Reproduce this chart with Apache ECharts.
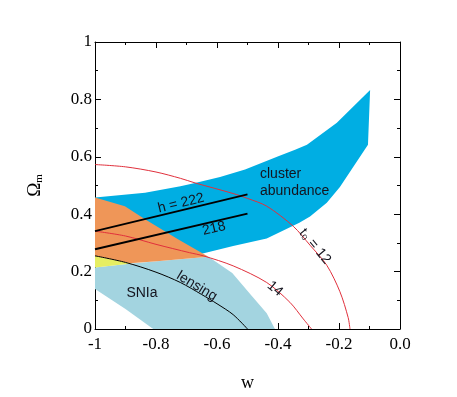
<!DOCTYPE html>
<html>
<head>
<meta charset="utf-8">
<script src="https://cdn.jsdelivr.net/npm/echarts@6/dist/echarts.min.js"></script>
<style>html,body{margin:0;padding:0;background:#fff;}#c{width:457px;height:397px;}</style>
</head>
<body>
<div id="c"></div>
<script>
// ---- data (w, Omega_m) ----
const xTickLabels = ['-1', '-0.8', '-0.6', '-0.4', '-0.2', '0.0'];
const yTickLabels = ['0', '0.2', '0.4', '0.6', '0.8', '1'];

const clusterRegion = [
  [-1, 0.458], [-0.836, 0.475], [-0.72, 0.497], [-0.672, 0.509], [-0.59, 0.53],
  [-0.508, 0.556], [-0.399, 0.602], [-0.344, 0.625], [-0.305, 0.642], [-0.207, 0.719],
  [-0.098, 0.833], [-0.105, 0.642], [-0.197, 0.495], [-0.24, 0.44], [-0.295, 0.392],
  [-0.33, 0.37], [-0.437, 0.315], [-0.547, 0.289], [-0.65, 0.262], [-1, 0.40]
];
const snRegion = [
  [-1, 0.214], [-0.88, 0.228], [-0.628, 0.252], [-0.55, 0.195], [-0.49, 0.12],
  [-0.437, 0.055], [-0.41, 0], [-0.809, 0], [-0.9, 0.07], [-1, 0.139]
];
const overlapRegion = [
  [-1, 0.458], [-0.902, 0.428], [-0.836, 0.382], [-0.728, 0.3125], [-0.628, 0.252],
  [-0.797, 0.236], [-0.885, 0.229], [-1, 0.254]
];
const lensSnRegion = [
  [-1, 0.254], [-0.88, 0.228], [-1, 0.214]
];
const h222 = [[-1, 0.341], [-0.5, 0.469]];
const h218 = [[-1, 0.278], [-0.5, 0.402]];
const lensing = [
  [-1, 0.255], [-0.9, 0.232], [-0.8, 0.198], [-0.72, 0.162], [-0.65, 0.12],
  [-0.6, 0.088], [-0.547, 0.05], [-0.5, 0]
];
const t0_12 = [
  [-1, 0.573], [-0.9, 0.565], [-0.8, 0.547], [-0.72, 0.525], [-0.672, 0.509],
  [-0.547, 0.472], [-0.5, 0.455], [-0.437, 0.428], [-0.35, 0.358], [-0.295, 0.292],
  [-0.24, 0.222], [-0.197, 0.13], [-0.17, 0.04], [-0.164, 0]
];
const t0_14 = [
  [-1, 0.341], [-0.9, 0.324], [-0.8, 0.295], [-0.69, 0.266], [-0.645, 0.255],
  [-0.547, 0.22], [-0.437, 0.162], [-0.361, 0.093], [-0.317, 0.035], [-0.29, 0]
];

// ---- annotations (text + placement) ----
const annotations = [
  { text: 'cluster', at: [-0.459, 0.538], rot: 0, align: 'left' },
  { text: 'abundance', at: [-0.459, 0.479], rot: 0, align: 'left' },
  { text: 'h = 222', at: [-0.718, 0.438], rot: 13.5, align: 'center' },
  { text: '218', at: [-0.61, 0.350], rot: 13.5, align: 'center' },
  { text: 't\u2080 = 12', at: [-0.279, 0.288], rot: -50, align: 'center' },
  { text: '14', at: [-0.41, 0.14], rot: -40, align: 'center' },
  { text: 'lensing', at: [-0.666, 0.149], rot: -31, align: 'center' },
  { text: 'SNIa', at: [-0.846, 0.125], rot: 0, align: 'center' }
];

function polySeries(pts, color) {
  return {
    type: 'custom', coordinateSystem: 'cartesian2d', silent: true, clip: true,
    data: [pts[0]],
    renderItem: function (params, api) {
      return { type: 'polygon', shape: { points: pts.map(function (p) { return api.coord(p); }) }, style: { fill: color } };
    }
  };
}
function lineSeries(pts, color, width, smooth) {
  return {
    type: 'line', data: pts, showSymbol: false, symbol: 'none', smooth: smooth, silent: true,
    lineStyle: { color: color, width: width }, z: 5
  };
}

const serif = 'Liberation Serif';
const tickCommon = { inside: true, length: 6, lineStyle: { color: '#000' } };
const minorCommon = { show: true, splitNumber: 2, length: 3, lineStyle: { color: '#000' } };

const chart = echarts.init(document.getElementById('c'), null, { renderer: 'canvas' });
chart.setOption({
  animation: false,
  backgroundColor: '#fff',
  grid: { left: 95, right: 57, top: 42, bottom: 67, containLabel: false },
  xAxis: [
    {
      type: 'value', min: -1, max: 0, interval: 0.2, position: 'bottom',
      name: 'w', nameLocation: 'middle', nameGap: 45,
      nameTextStyle: { fontFamily: serif, fontSize: 18, color: '#000' },
      axisLine: { onZero: false, lineStyle: { color: '#000', width: 1 } },
      axisTick: tickCommon, minorTick: minorCommon,
      splitLine: { show: false },
      axisLabel: {
        margin: 7, fontFamily: serif, fontSize: 17, color: '#000',
        formatter: function (v) { return xTickLabels[Math.round((v + 1) / 0.2)]; }
      }
    },
    {
      type: 'value', min: -1, max: 0, interval: 0.2, position: 'top',
      axisLine: { onZero: false, lineStyle: { color: '#000', width: 1 } },
      axisTick: tickCommon, minorTick: minorCommon,
      splitLine: { show: false }, axisLabel: { show: false }
    }
  ],
  yAxis: [
    {
      type: 'value', min: 0, max: 1, interval: 0.2, position: 'left',
      name: '{a|\u03A9}{b|m}', nameLocation: 'middle', nameGap: 50, nameRotate: 90,
      nameTextStyle: {
        rich: {
          a: { fontFamily: serif, fontSize: 19, color: '#000' },
          b: { fontFamily: serif, fontSize: 11, color: '#000', verticalAlign: 'bottom' }
        }
      },
      axisLine: { onZero: false, lineStyle: { color: '#000', width: 1 } },
      axisTick: tickCommon, minorTick: minorCommon,
      splitLine: { show: false },
      axisLabel: {
        margin: 3, fontFamily: serif, fontSize: 17, color: '#000',
        formatter: function (v) { return yTickLabels[Math.round(v / 0.2)]; }
      }
    },
    {
      type: 'value', min: 0, max: 1, interval: 0.2, position: 'right',
      axisLine: { onZero: false, lineStyle: { color: '#000', width: 1 } },
      axisTick: tickCommon, minorTick: minorCommon,
      splitLine: { show: false }, axisLabel: { show: false }
    }
  ],
  series: [
    polySeries(clusterRegion, '#00aee3'),
    polySeries(snRegion, '#a3d4e0'),
    polySeries(overlapRegion, '#ef9658'),
    polySeries(lensSnRegion, '#e6ee62'),
    lineSeries(t0_12, '#e0303c', 1, 0.3),
    lineSeries(t0_14, '#e0303c', 1, 0.3),
    lineSeries(lensing, '#000', 1, 0.3),
    lineSeries(h222, '#000', 2, false),
    lineSeries(h218, '#000', 2, false),
    {
      type: 'custom', coordinateSystem: 'cartesian2d', silent: true, z: 10,
      data: annotations.map(function (a) { return a.at; }),
      renderItem: function (params, api) {
        const a = annotations[params.dataIndex];
        const p = api.coord(a.at);
        return {
          type: 'text', x: p[0], y: p[1], rotation: a.rot * Math.PI / 180,
          style: {
            text: a.text, fontFamily: 'Liberation Sans', fontSize: 14, fill: '#14141e',
            align: a.align, verticalAlign: 'middle'
          }
        };
      }
    }
  ]
});
</script>
</body>
</html>
